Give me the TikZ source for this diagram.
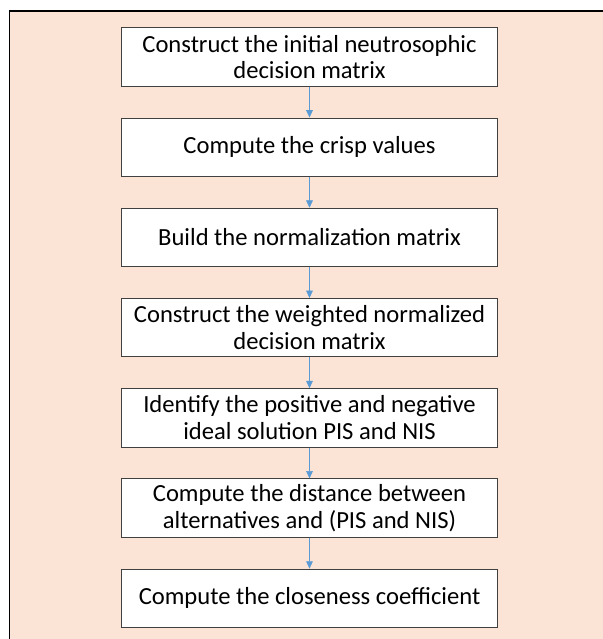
\documentclass[tikz,border=0pt]{standalone}
\usepackage{fontspec}
\setmainfont{Carlito}
\usepackage{xcolor}
\usetikzlibrary{positioning,arrows.meta}
\definecolor{bgpeach}{RGB}{251,228,214}
\definecolor{boxedge}{RGB}{64,64,64}
\definecolor{flowblue}{RGB}{91,155,213}

\begin{document}
\begin{tikzpicture}[
  node distance=0.925cm,
  every node/.style={font=\fontsize{21}{22.8}\selectfont},
  stepbox/.style={draw=boxedge, line width=0.9pt, fill=white, minimum width=11.28cm, minimum height=1.75cm, align=center, inner sep=2pt},
  flow/.style={-{Triangle[length=2.2mm, width=2mm]}, draw=flowblue, fill=flowblue, line width=0.5pt}
]
\useasboundingbox (0,0) rectangle (18.06,-19.17);
% background panel
\draw[fill=bgpeach, line width=1pt] (0.285,-0.33) rectangle (18.4,-19.5);

\node[stepbox] (init) at (9.285,-1.71) {Construct the initial neutrosophic\\decision matrix};
\node[stepbox, below=of init] (crisp) {Compute the crisp values};
\node[stepbox, below=of crisp] (norm) {Build the normalization matrix};
\node[stepbox, below=of norm] (wnorm) {Construct the weighted normalized\\decision matrix};
\node[stepbox, below=of wnorm] (ideal) {Identify the positive and negative\\ideal solution PIS and NIS};
\node[stepbox, below=of ideal] (dist) {Compute the distance between\\alternatives and (PIS and NIS)};
\node[stepbox, below=of dist] (close) {Compute the closeness coefficient};

\draw[flow] (init) -- (crisp);
\draw[flow] (crisp) -- (norm);
\draw[flow] (norm) -- (wnorm);
\draw[flow] (wnorm) -- (ideal);
\draw[flow] (ideal) -- (dist);
\draw[flow] (dist) -- (close);
\end{tikzpicture}
\end{document}
